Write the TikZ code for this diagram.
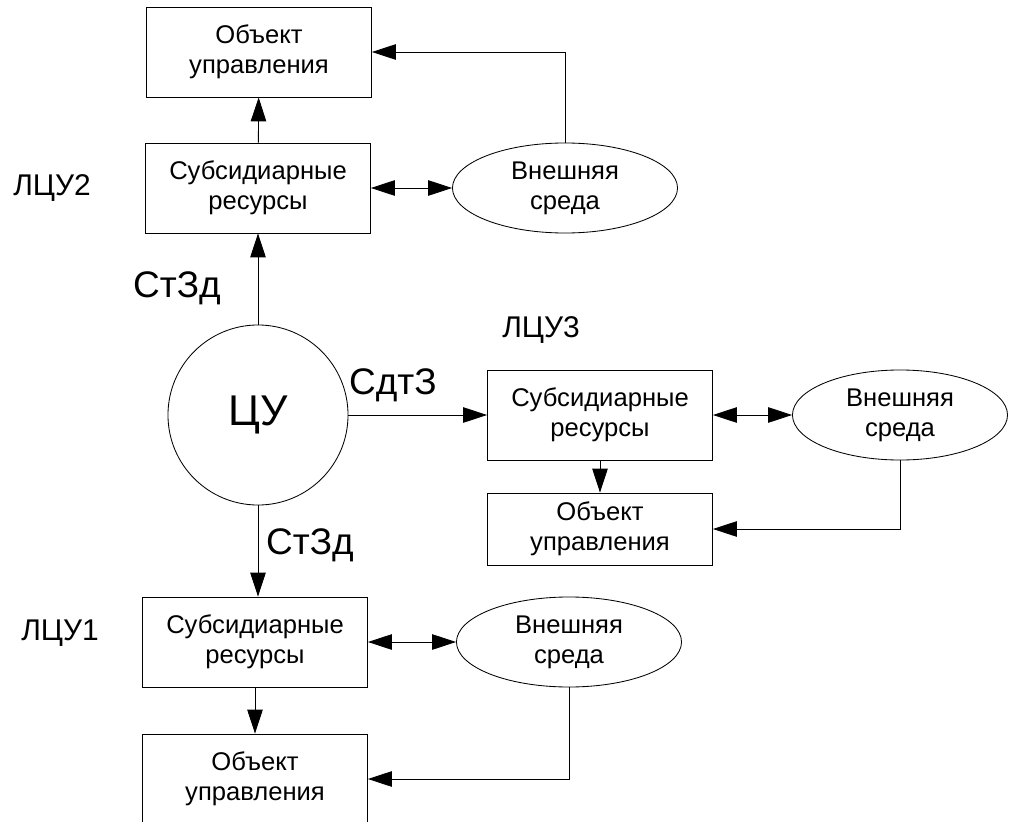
\documentclass[tikz,border=0pt]{standalone}
\usepackage{fontspec}
\setmainfont{Liberation Sans}
\usetikzlibrary{arrows.meta,shapes.geometric}

\begin{document}
\begin{tikzpicture}[x=0.025cm,y=-0.025cm,line width=0.6pt,
  >={Triangle[length=17pt,width=11pt]},
  blok/.style={draw,rectangle,align=center,inner sep=0pt,minimum width=5.625cm,minimum height=2.25cm,font=\fontsize{18.2}{21.3}\selectfont},
  sreda/.style={draw,ellipse,align=center,inner sep=0pt,minimum width=5.625cm,minimum height=2.25cm,font=\fontsize{18.2}{21.3}\selectfont},
  metka/.style={font=\fontsize{21.3}{24}\selectfont},
  potok/.style={font=\fontsize{26.3}{30}\selectfont}]
        \useasboundingbox (0,0) rectangle (1009,822);
        % centre
        \node[draw,circle,inner sep=0pt,minimum size=4.5cm,font=\fontsize{30.6}{34}\selectfont](CU) at (258,415) {ЦУ};
        % level 2
        \node[blok](obj2) at (259,52) {Объект\\управления};
        \node[blok](sub2) at (258,188) {Субсидиарные\\ресурсы};
        \node[sreda](env2) at (565,188) {Внешняя\\среда};
        \node[metka](L2) at (52,188) {ЛЦУ2};
        \node[potok](S2) at (177,288) {СтЗд};
        \draw[->](sub2)--(obj2);
        \draw[<->](sub2)--(env2);
        \draw[->](env2.north)|-(obj2.east);
        \draw[->](CU)--(sub2);
        % level 3
        \node[blok](sub3) at (600,415) {Субсидиарные\\ресурсы};
        \node[blok,minimum height=1.8cm](obj3) at (600,529) {Объект\\управления};
        \node[sreda,minimum width=5.375cm](env3) at (900,415) {Внешняя\\среда};
        \node[metka](L3) at (541,330) {ЛЦУ3};
        \node[potok](S3) at (393,385) {СдтЗ};
        \draw[->](CU)--(sub3);
        \draw[<->](sub3)--(env3);
        \draw[->](sub3)--(obj3);
        \draw[->](env3.south)|-(obj3.east);
        % level 1
        \node[blok](sub1) at (255,642) {Субсидиарные\\ресурсы};
        \node[sreda](env1) at (569,642) {Внешняя\\среда};
        \node[blok](obj1) at (255,779) {Объект\\управления};
        \node[metka](L1) at (60,633) {ЛЦУ1};
        \node[potok](S1) at (310,545) {СтЗд};
        \draw[->](CU.south)--(CU.south|-sub1.north);
        \draw[<->](sub1)--(env1);
        \draw[->](sub1)--(obj1);
        \draw[->](env1.south)|-(obj1.east);
    \end{tikzpicture}
\end{document}
